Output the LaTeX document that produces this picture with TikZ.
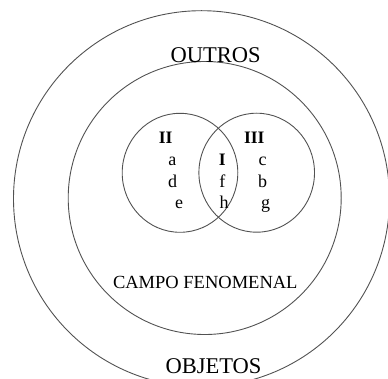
\documentclass[tikz,border=0pt]{standalone}
\usepackage{fontspec}
\setmainfont{Liberation Serif}
\begin{document}
\begin{tikzpicture}[x=1pt,y=-1pt,
  ring/.style={draw=black!68,line width=0.9pt},
  big/.style={font=\fontsize{22.5}{26}\selectfont,anchor=base,inner sep=0pt},
  mid/.style={font=\fontsize{18.5}{22}\selectfont,anchor=base,inner sep=0pt},
  lett/.style={font=\fontsize{18}{21}\selectfont,anchor=base,inner sep=0pt},
  roman/.style={font=\fontsize{17.5}{21}\selectfont\bfseries,anchor=base,inner sep=0pt}]
\useasboundingbox (0,0) rectangle (388,379);
\clip (0,0) rectangle (388,379);
\coordinate (co) at (201.5,198.7);
\coordinate (ci) at (204.7,198);
\coordinate (cl) at (180,172.8);
\coordinate (cr) at (256.7,172.7);
\draw[ring] (co) circle (188);
\draw[ring] (ci) circle (136.5);
\draw[ring] (cl) ellipse [x radius=57.8, y radius=59.5];
\draw[ring] (cr) ellipse [x radius=57.8, y radius=59.5];
\node[big] (outros) at (215.7,62.7) {OUTROS};
\node[big] (objetos) at (213.5,373.3) {OBJETOS};
\node[mid] (campo) at (205.3,288.3) {CAMPO FENOMENAL};
\node[roman] (r2) at (165.7,144) {II};
\node[roman] (r1) at (222.3,165.7) {I};
\node[roman] (r3) at (254.3,144) {III};
\node[lett] (la) at (172.3,165.7) {a};
\node[lett] (ld) at (172.7,187.3) {d};
\node[lett] (le) at (179,209) {e};
\node[lett] (lf) at (222.3,187.3) {f};
\node[lett] (lh) at (224,209) {h};
\node[lett] (lc) at (262.7,165.7) {c};
\node[lett] (lb) at (262.7,187.3) {b};
\node[lett] (lg) at (265.7,209) {g};
\end{tikzpicture}
\end{document}
